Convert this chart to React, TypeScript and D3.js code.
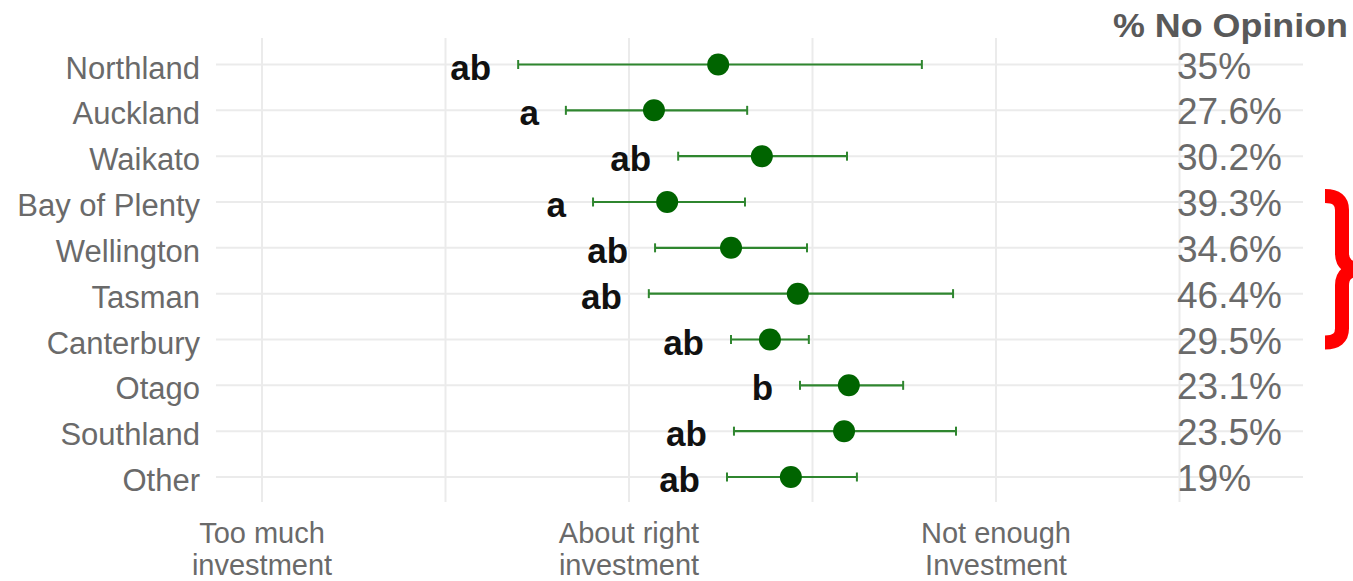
import React, { useEffect, useRef } from "react";
import * as d3 from "d3";

const regions = ["Northland", "Auckland", "Waikato", "Bay of Plenty", "Wellington", "Tasman", "Canterbury", "Otago", "Southland", "Other"];
const means = [2.243, 2.068, 2.362, 2.104, 2.278, 2.46, 2.384, 2.599, 2.586, 2.441];
const lows = [1.698, 1.828, 2.134, 1.902, 2.071, 2.054, 2.278, 2.466, 2.286, 2.267];
const highs = [2.798, 2.322, 2.594, 2.316, 2.485, 2.883, 2.49, 2.747, 2.891, 2.621];
const letters = ["ab", "a", "ab", "a", "ab", "ab", "ab", "b", "ab", "ab"];
const noOpinion = ["35%", "27.6%", "30.2%", "39.3%", "34.6%", "46.4%", "29.5%", "23.1%", "23.5%", "19%"];
const xTickValues = [1, 2, 3];
const xTickLines1 = ["Too much", "About right", "Not enough"];
const xTickLines2 = ["investment", "investment", "Investment"];
const gridValues = [1, 1.5, 2, 2.5, 3, 3.5];

const W = 1353;
const H = 581;

export default function App() {
  const ref = useRef<SVGSVGElement>(null);

  useEffect(() => {
    document.body.style.margin = "0";
    const svg = d3.select(ref.current);
    svg.selectAll("*").remove();

    const x = d3.scaleLinear().domain([1, 3]).range([262, 996]);
    const y = d3.scalePoint<string>().domain(regions).range([64.5, 477]);
    const font = "Arial, 'Liberation Sans', sans-serif";

    const gridLeft = 216;
    const gridRight = 1303;

    svg.append("g").selectAll("line").data(regions).join("line")
      .attr("x1", gridLeft).attr("x2", gridRight)
      .attr("y1", d => y(d)!).attr("y2", d => y(d)!)
      .attr("stroke", "#ebebeb").attr("stroke-width", 2);

    svg.append("g").selectAll("line").data(gridValues).join("line")
      .attr("x1", d => x(d)).attr("x2", d => x(d))
      .attr("y1", 38).attr("y2", 502)
      .attr("stroke", "#ebebeb").attr("stroke-width", 2);

    const data = regions.map((r, i) => ({ r, m: means[i], lo: lows[i], hi: highs[i], l: letters[i], p: noOpinion[i] }));

    const eb = svg.append("g");
    const ebColor = "#2f862f";
    eb.selectAll("line.h").data(data).join("line").attr("class", "h")
      .attr("x1", d => x(d.lo)).attr("x2", d => x(d.hi))
      .attr("y1", d => y(d.r)!).attr("y2", d => y(d.r)!)
      .attr("stroke", ebColor).attr("stroke-width", 2.2);
    eb.selectAll("line.cl").data(data).join("line").attr("class", "cl")
      .attr("x1", d => x(d.lo)).attr("x2", d => x(d.lo))
      .attr("y1", d => y(d.r)! - 4.5).attr("y2", d => y(d.r)! + 4.5)
      .attr("stroke", ebColor).attr("stroke-width", 2);
    eb.selectAll("line.ch").data(data).join("line").attr("class", "ch")
      .attr("x1", d => x(d.hi)).attr("x2", d => x(d.hi))
      .attr("y1", d => y(d.r)! - 4.5).attr("y2", d => y(d.r)! + 4.5)
      .attr("stroke", ebColor).attr("stroke-width", 2);

    svg.append("g").selectAll("circle").data(data).join("circle")
      .attr("cx", d => x(d.m)).attr("cy", d => y(d.r)!).attr("r", 11)
      .attr("fill", "#006400");

    svg.append("g").selectAll("text").data(data).join("text")
      .attr("x", d => x(d.lo) - 27).attr("y", d => y(d.r)! + 15)
      .attr("text-anchor", "end")
      .attr("font-family", font).attr("font-weight", "bold").attr("font-size", 35)
      .attr("fill", "#111").text(d => d.l);

    svg.append("g").selectAll("text").data(regions).join("text")
      .attr("x", 200).attr("y", d => y(d)! + 14)
      .attr("text-anchor", "end")
      .attr("font-family", font).attr("font-size", 31)
      .attr("fill", "#6a6a6a").text(d => d);

    svg.append("g").selectAll("text").data(data).join("text")
      .attr("x", 1177).attr("y", d => y(d.r)! + 14)
      .attr("font-family", font).attr("font-size", 37)
      .attr("fill", "#6a6a6a").text(d => d.p);

    svg.append("text")
      .attr("x", 1113).attr("y", 37)
      .attr("font-family", font).attr("font-weight", "bold").attr("font-size", 34)
      .attr("textLength", 235).attr("lengthAdjust", "spacingAndGlyphs")
      .attr("fill", "#595959").text("% No Opinion");

    const xt = svg.append("g");
    xt.selectAll("text.l1").data(xTickValues).join("text").attr("class", "l1")
      .attr("x", d => x(d)).attr("y", 543)
      .attr("text-anchor", "middle")
      .attr("font-family", font).attr("font-size", 29)
      .attr("fill", "#6a6a6a").text((d, i) => xTickLines1[i]);
    xt.selectAll("text.l2").data(xTickValues).join("text").attr("class", "l2")
      .attr("x", d => x(d)).attr("y", 575)
      .attr("text-anchor", "middle")
      .attr("font-family", font).attr("font-size", 29)
      .attr("fill", "#6a6a6a").text((d, i) => xTickLines2[i]);

    const yTop = y("Bay of Plenty")! - 6;
    const yBot = y("Canterbury")! + 3;
    const yMid = (yTop + yBot) / 2;
    const xs = 1342;
    const p = d3.path();
    p.moveTo(1325, yTop);
    p.quadraticCurveTo(xs, yTop, xs, yTop + 14);
    p.lineTo(xs, yMid - 16);
    p.quadraticCurveTo(xs, yMid, 1362, yMid);
    p.quadraticCurveTo(xs, yMid, xs, yMid + 16);
    p.lineTo(xs, yBot - 14);
    p.quadraticCurveTo(xs, yBot, 1325, yBot);
    svg.append("path").attr("d", p.toString())
      .attr("fill", "none").attr("stroke", "#ff0000").attr("stroke-width", 14)
      .attr("stroke-linejoin", "miter");
  }, []);

  return (
    <svg ref={ref} width={W} height={H} style={{ position: "absolute", left: 0, top: 0, background: "#fff" }} />
  );
}
